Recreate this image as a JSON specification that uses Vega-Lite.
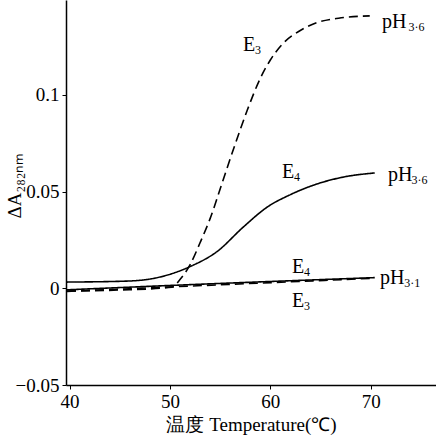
{
  "$schema": "https://vega.github.io/schema/vega-lite/v6.json",
  "width": 370,
  "height": 385,
  "autosize": "none",
  "padding": {"left": 66, "top": 0, "right": 0, "bottom": 52},
  "background": "white",
  "config": {
    "view": {"stroke": null},
    "font": "Times New Roman",
    "axis": {"grid": false, "domainColor": "black", "domainWidth": 1.5, "tickColor": "black", "labelColor": "black", "titleColor": "black", "labelFont": "Times New Roman", "titleFont": "Times New Roman", "titleFontWeight": "normal"}
  },
  "datasets": {
    "curves": [
      {"curve": "E3 pH3.6", "style": "dashed", "t": 39.75, "a": -0.0014},
      {"curve": "E3 pH3.6", "style": "dashed", "t": 45.0, "a": -0.0009},
      {"curve": "E3 pH3.6", "style": "dashed", "t": 50.2, "a": 0.0005},
      {"curve": "E3 pH3.6", "style": "dashed", "t": 51.0, "a": 0.0045},
      {"curve": "E3 pH3.6", "style": "dashed", "t": 52.0, "a": 0.0121},
      {"curve": "E3 pH3.6", "style": "dashed", "t": 53.0, "a": 0.0235},
      {"curve": "E3 pH3.6", "style": "dashed", "t": 54.0, "a": 0.0360},
      {"curve": "E3 pH3.6", "style": "dashed", "t": 55.3, "a": 0.0560},
      {"curve": "E3 pH3.6", "style": "dashed", "t": 56.5, "a": 0.0745},
      {"curve": "E3 pH3.6", "style": "dashed", "t": 57.7, "a": 0.0920},
      {"curve": "E3 pH3.6", "style": "dashed", "t": 59.0, "a": 0.1085},
      {"curve": "E3 pH3.6", "style": "dashed", "t": 60.0, "a": 0.1180},
      {"curve": "E3 pH3.6", "style": "dashed", "t": 61.2, "a": 0.1262},
      {"curve": "E3 pH3.6", "style": "dashed", "t": 62.9, "a": 0.1330},
      {"curve": "E3 pH3.6", "style": "dashed", "t": 64.6, "a": 0.1372},
      {"curve": "E3 pH3.6", "style": "dashed", "t": 66.8, "a": 0.1396},
      {"curve": "E3 pH3.6", "style": "dashed", "t": 69.9, "a": 0.1408},
      {"curve": "E4 pH3.6", "style": "solid", "t": 39.75, "a": 0.0032},
      {"curve": "E4 pH3.6", "style": "solid", "t": 45.7, "a": 0.0037},
      {"curve": "E4 pH3.6", "style": "solid", "t": 49.0, "a": 0.0058},
      {"curve": "E4 pH3.6", "style": "solid", "t": 52.0, "a": 0.0112},
      {"curve": "E4 pH3.6", "style": "solid", "t": 54.7, "a": 0.0190},
      {"curve": "E4 pH3.6", "style": "solid", "t": 57.3, "a": 0.0316},
      {"curve": "E4 pH3.6", "style": "solid", "t": 59.7, "a": 0.0420},
      {"curve": "E4 pH3.6", "style": "solid", "t": 62.0, "a": 0.0484},
      {"curve": "E4 pH3.6", "style": "solid", "t": 64.3, "a": 0.0533},
      {"curve": "E4 pH3.6", "style": "solid", "t": 67.2, "a": 0.0574},
      {"curve": "E4 pH3.6", "style": "solid", "t": 70.4, "a": 0.0596},
      {"curve": "E4 pH3.1", "style": "solid", "t": 39.75, "a": -0.0008},
      {"curve": "E4 pH3.1", "style": "solid", "t": 55.0, "a": 0.0025},
      {"curve": "E4 pH3.1", "style": "solid", "t": 70.4, "a": 0.0055},
      {"curve": "E3 pH3.1", "style": "dashed", "t": 39.75, "a": -0.0016},
      {"curve": "E3 pH3.1", "style": "dashed", "t": 55.0, "a": 0.0018},
      {"curve": "E3 pH3.1", "style": "dashed", "t": 70.4, "a": 0.0052}
    ],
    "labels": [
      {"label": "E", "t": 57.28, "a": 0.1257},
      {"label": "pH", "t": 71.12, "a": 0.1376},
      {"label": "E", "t": 61.16, "a": 0.0601},
      {"label": "pH", "t": 71.72, "a": 0.0585},
      {"label": "E", "t": 62.16, "a": 0.0110},
      {"label": "pH", "t": 70.93, "a": 0.0053},
      {"label": "E", "t": 62.16, "a": -0.0066}
    ],
    "subs": [
      {"label": "3", "t": 58.47, "a": 0.1230},
      {"label": "3·6", "t": 73.75, "a": 0.1350},
      {"label": "4", "t": 62.36, "a": 0.0574},
      {"label": "3·6", "t": 74.05, "a": 0.0558},
      {"label": "4", "t": 63.36, "a": 0.0083},
      {"label": "3·1", "t": 73.35, "a": 0.0026},
      {"label": "3", "t": 63.36, "a": -0.0093}
    ]
  },
  "layer": [
    {
      "data": {"name": "curves"},
      "mark": {"type": "line", "color": "black", "strokeWidth": 1.6, "interpolate": "monotone", "clip": true},
      "encoding": {
        "x": {"field": "t", "type": "quantitative",
          "scale": {"domain": [39.65, 76.5], "nice": false, "zero": false},
          "axis": {"values": [40, 50, 60, 70], "tickSize": 4, "labelPadding": 3, "labelFontSize": 19, "labelFont": "Times New Roman", "title": "温度 Temperature(℃)", "titleFont": "Times New Roman", "titleFontSize": 19, "titlePadding": 4}},
        "y": {"field": "a", "type": "quantitative",
          "scale": {"domain": [-0.05, 0.149], "nice": false, "zero": false},
          "axis": {"values": [-0.05, 0, 0.05, 0.1], "tickSize": 4, "labelPadding": 3, "labelFontSize": 19, "labelFont": "Times New Roman",
            "labelExpr": "datum.value == 0 ? '0' : datum.value < 0 ? '−0.05' : datum.value == 0.1 ? '0.1' : '0.05'",
            "title": "ΔA₂₈₂ₙₘ", "titleFont": "Times New Roman", "titleFontSize": 19, "titleAngle": 270, "titleX": -52, "titleY": 185, "titleAlign": "center", "titleBaseline": "middle"}},
        "detail": {"field": "curve"},
        "strokeDash": {"field": "style", "type": "nominal", "scale": {"domain": ["solid", "dashed"], "range": [[1, 0], [9, 5]]}, "legend": null}
      }
    },
    {
      "data": {"name": "labels"},
      "mark": {"type": "text", "fontSize": 20, "color": "black", "align": "left", "baseline": "middle", "font": "Times New Roman"},
      "encoding": {
        "x": {"field": "t", "type": "quantitative"},
        "y": {"field": "a", "type": "quantitative"},
        "text": {"field": "label"}
      }
    },
    {
      "data": {"name": "subs"},
      "mark": {"type": "text", "fontSize": 12, "color": "black", "align": "left", "baseline": "middle", "font": "Times New Roman"},
      "encoding": {
        "x": {"field": "t", "type": "quantitative"},
        "y": {"field": "a", "type": "quantitative"},
        "text": {"field": "label"}
      }
    }
  ]
}
